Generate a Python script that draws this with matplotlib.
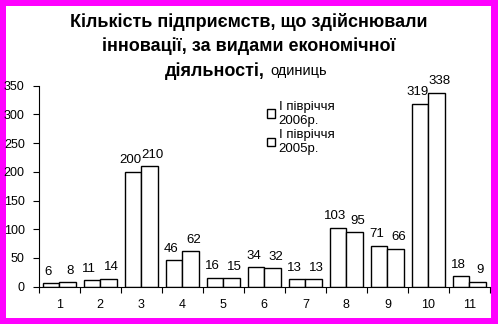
import matplotlib
matplotlib.use('Agg')
import matplotlib.pyplot as plt
from matplotlib.patches import Rectangle
import numpy as np

plt.rcParams['font.family'] = ['Liberation Sans', 'DejaVu Sans']

categories = ['1', '2', '3', '4', '5', '6', '7', '8', '9', '10', '11']
h1_2006 = [6, 11, 200, 46, 16, 34, 13, 103, 71, 319, 18]
h1_2005 = [8, 14, 210, 62, 15, 32, 13, 95, 66, 338, 9]
series_names = ['І півріччя\n2006р.', 'І півріччя\n2005р.']

W, H = 498, 324
fig = plt.figure(figsize=(W / 100, H / 100), dpi=100)
fig.patch.set_facecolor('#FF00FF')
# white inner panel inside the magenta frame
fig.add_artist(Rectangle((6 / W, 6 / H), (491 - 6) / W, (318 - 6) / H,
                         transform=fig.transFigure, facecolor='white',
                         edgecolor='none', zorder=-1))

ax = fig.add_axes([38.7 / W, 1 - 286.7 / H, (490 - 38.7) / W, (286.7 - 85.7) / H])
ax.set_facecolor('none')

x = np.arange(1, len(categories) + 1)
bw = 0.4
b1 = ax.bar(x - bw / 2, h1_2006, bw, facecolor='white', edgecolor='black', linewidth=1.0)
b2 = ax.bar(x + bw / 2, h1_2005, bw, facecolor='white', edgecolor='black', linewidth=1.0)

for bars, vals, dx in ((b1, h1_2006, -2), (b2, h1_2005, 2)):
    for r, v in zip(bars, vals):
        ax.annotate(str(v), (r.get_x() + r.get_width() / 2, v), xytext=(dx, 4),
                    textcoords='offset points', ha='center', va='bottom',
                    fontsize=9.5, annotation_clip=False)

ax.set_xlim(0.5, len(categories) + 0.5)
ax.set_ylim(0, 350)
ax.set_yticks(range(0, 351, 50))
ax.set_xticks(x)
ax.set_xticklabels(categories)
ax.set_xticks(np.arange(0.5, len(categories) + 1, 1), minor=True)
ax.tick_params(axis='x', which='major', length=0, pad=9, labelsize=9)
ax.tick_params(axis='x', which='minor', length=4, width=0.8, direction='out')
ax.tick_params(axis='y', length=4, width=0.8, direction='out', pad=6, labelsize=9)
for s in ('top', 'right'):
    ax.spines[s].set_visible(False)
for s in ('left', 'bottom'):
    ax.spines[s].set_linewidth(0.8)

leg = fig.legend([b1[0], b2[0]], series_names, loc='upper left',
                 bbox_to_anchor=(255 / W, 1 - 89 / H), frameon=False,
                 fontsize=9.5, handlelength=0.6, handleheight=0.6,
                 handletextpad=0.3, labelspacing=0.2)

# title
fig.text(0.5, 1 - 22 / H, 'Кількість підприємств, що здійснювали', ha='center',
         va='center', fontsize=13, fontweight='bold')
fig.text(0.5, 1 - 46 / H, 'інновації, за видами економічної', ha='center',
         va='center', fontsize=13, fontweight='bold')
fig.text(265 / W, 1 - 71 / H, 'діяльності,', ha='right', va='center',
         fontsize=13, fontweight='bold')
fig.text(270 / W, 1 - 71 / H, 'одиниць', ha='left', va='center', fontsize=10.5)

fig.savefig('out.png', dpi=100, facecolor=fig.get_facecolor())
